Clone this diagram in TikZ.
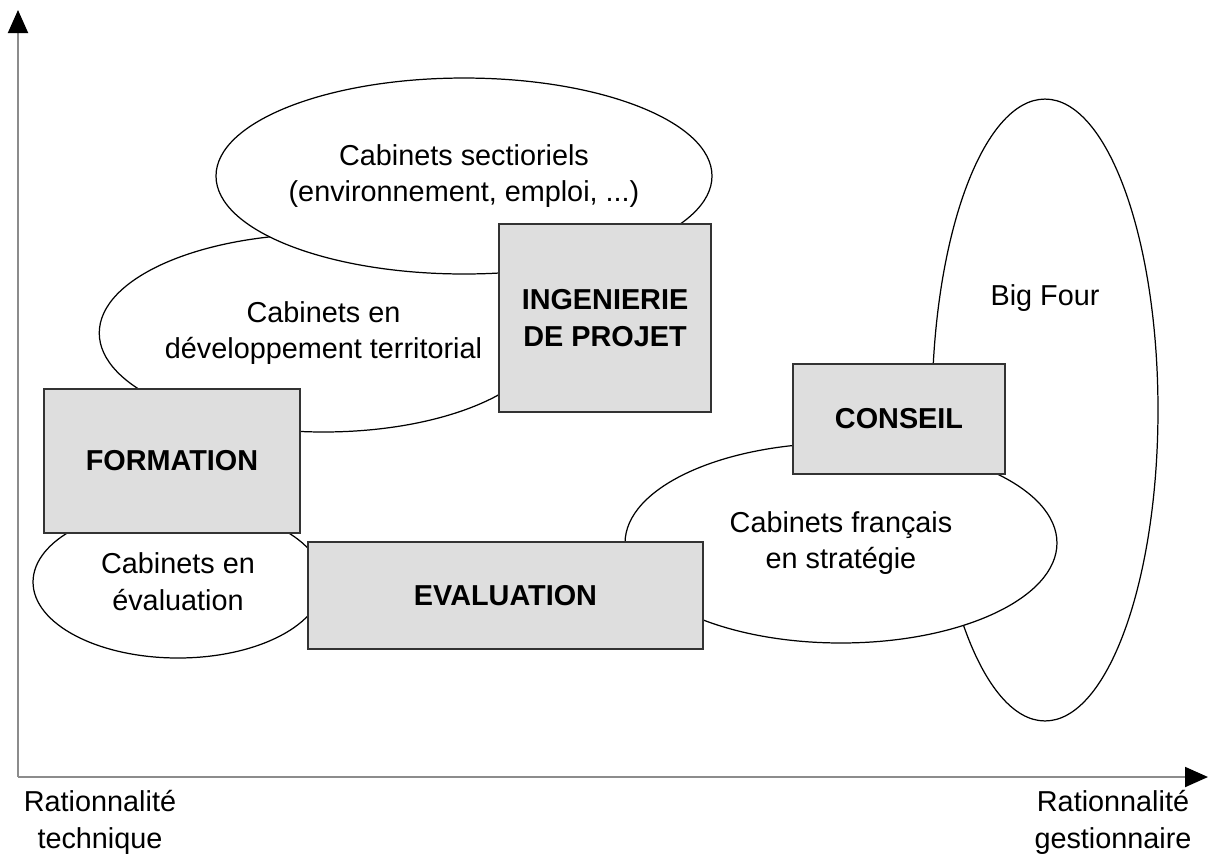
\documentclass[tikz,border=0pt]{standalone}
\usepackage{fontspec}
\setmainfont{Liberation Sans}
\usetikzlibrary{arrows.meta, shapes.geometric}
\newcommand{\taille}{\fontsize{16.4}{21}\selectfont}

\begin{document}
\begin{tikzpicture}[x = 0.02cm, y = -0.02cm,
    every node/.style = {font = \taille},
    cabinet/.style = {draw, ellipse, fill = white, line width = 0.7pt,
      inner sep = 0pt, align = center},
    activite/.style = {draw = black!80, fill = black!13, line width = 1pt,
      font = \taille\bfseries, align = center},
    axe/.style = {line width = 1.1pt, black!45,
      -{Triangle[length = 0.46cm, width = 0.4cm, black]}}]
    \useasboundingbox (0,0) rectangle (1209,860);
    % axes
    \coordinate (origine) at (18,777);
    \coordinate (haut) at (18,10);
    \coordinate (droite) at (1208,777);
    \draw [axe] (origine) -- (haut);
    \draw [axe] (origine) -- (droite);
    \node [align = center] (technique) at (100,822) {Rationnalité\\technique};
    \node [align = center] (gestion) at (1113,822) {Rationnalité\\gestionnaire};
    % partie gauche
    \node [cabinet, minimum width = 8.58cm, minimum height = 3.96cm]
      (territorial) at (323.5,333) {Cabinets en\\développement territorial};
    \node [cabinet, minimum width = 8.6cm, minimum height = 3.92cm]
      (sectoriel) at (464,176) {Cabinets sectioriels\\(environnement, emploi, ...)};
    \node [activite, minimum width = 4.24cm, minimum height = 3.76cm]
      (ingenierie) at (605,318) {INGENIERIE\\DE PROJET};
    \node [cabinet, minimum width = 5.8cm, minimum height = 3.04cm]
      (cabeval) at (178,582) {Cabinets en\\évaluation};
    \node [activite, minimum width = 5.12cm, minimum height = 2.88cm]
      (formation) at (172,461) {FORMATION};
    % partie droite
    \node [cabinet, minimum width = 4.52cm, minimum height = 12.44cm]
      (bigfour) at (1045,410) {};
    \node (bigfour txt) at (1045,298) {Big Four};
    \node [cabinet, minimum width = 8.64cm, minimum height = 4cm]
      (strategie) at (841,543) {Cabinets français\\en stratégie};
    \node [activite, minimum width = 4.24cm, minimum height = 2.2cm]
      (conseil) at (899,419) {CONSEIL};
    \node [activite, minimum width = 7.9cm, minimum height = 2.14cm]
      (evaluation) at (505.5,595.5) {EVALUATION};
  \end{tikzpicture}
\end{document}
